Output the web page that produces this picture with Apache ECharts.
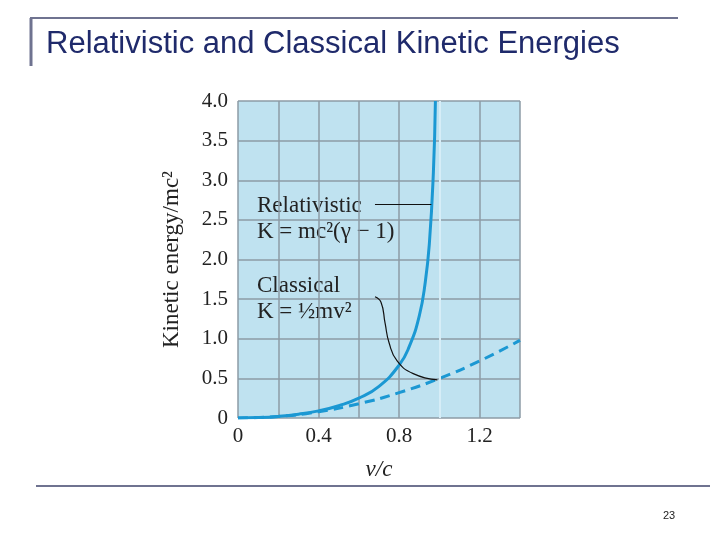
<!DOCTYPE html>
<html>
<head>
<meta charset="utf-8">
<script src="https://cdn.jsdelivr.net/npm/echarts@6/dist/echarts.min.js"></script>
<style>html,body{margin:0;background:#fff}#c{width:720px;height:540px}</style>
</head>
<body>
<div id="c"></div>
<script>
// values
const relV = [0, 0.1, 0.2, 0.3, 0.4, 0.5, 0.6, 0.7, 0.8, 0.85, 0.9, 0.93, 0.95, 0.97, 0.98];
const relK = [0, 0.005, 0.02, 0.048, 0.09, 0.155, 0.25, 0.40, 0.667, 0.9, 1.29, 1.72, 2.2, 3.1, 4.0];
const clsV = [0, 0.2, 0.4, 0.6, 0.8, 1.0, 1.2, 1.4];
const clsK = [0, 0.02, 0.08, 0.18, 0.32, 0.5, 0.72, 0.98];
// curved pointer from "Classical" label to curve
const ptrV = [0.68, 0.71, 0.73, 0.75, 0.79, 0.87, 0.99];
const ptrK = [1.53, 1.46, 1.2, 0.95, 0.72, 0.56, 0.48];

const blue = "#1b98d3";
const serif = "Liberation Serif";
const zip = (a, b) => a.map((x, i) => [x, b[i]]);

const chart = echarts.init(document.getElementById("c"));
chart.setOption({
  animation: false,
  grid: { left: 238, right: 200, top: 101, bottom: 122, backgroundColor: "#bfe2f0", show: true, borderWidth: 0 },
  xAxis: {
    type: "value", min: 0, max: 1.4, interval: 0.2,
    axisLine: { show: false }, axisTick: { show: false },
    splitLine: { lineStyle: { color: "#8c9ba6", width: 1.5 } },
    axisLabel: { fontFamily: serif, fontSize: 21, color: "#222", margin: 8,
      formatter: v => (Math.round(v * 10) % 4 === 0 ? (v === 0 ? "0" : v.toFixed(1)) : "") },
    name: "v/c", nameLocation: "middle", nameGap: 40,
    nameTextStyle: { fontFamily: serif, fontStyle: "italic", fontSize: 23, color: "#222" }
  },
  yAxis: {
    type: "value", min: 0, max: 4, interval: 0.5,
    axisLine: { show: false }, axisTick: { show: false },
    splitLine: { lineStyle: { color: "#8c9ba6", width: 1.5 } },
    axisLabel: { fontFamily: serif, fontSize: 21, color: "#222", margin: 10,
      formatter: v => (v === 0 ? "0" : v.toFixed(1)) },
    name: "Kinetic energy/mc²", nameLocation: "middle", nameGap: 55,
    nameTextStyle: { fontFamily: serif, fontSize: 23, color: "#222" }
  },
  series: [
    { type: "line", data: zip(relV, relK), smooth: true, symbol: "none", z: 3,
      lineStyle: { color: blue, width: 3 },
      markLine: { silent: true, symbol: "none", label: { show: false },
        data: [
          [{ coord: [0.68, 2.7], lineStyle: { color: "#111", width: 1, type: "solid" } }, { coord: [0.96, 2.7] }],
          [{ coord: [1.0, 0], lineStyle: { color: "#d6edf7", width: 2, type: "solid" } }, { coord: [1.0, 4] }]
        ] } },
    { type: "line", data: zip(clsV, clsK), smooth: true, symbol: "none", z: 3,
      lineStyle: { color: blue, width: 3, type: [10, 6] } },
    { type: "line", data: zip(ptrV, ptrK), smooth: true, symbol: "none",
      lineStyle: { color: "#111", width: 1.2 } }
  ],
  graphic: [
    { type: "text", left: 46, top: 29, style: { text: "Relativistic and Classical Kinetic Energies", font: "31px Liberation Sans", fill: "#1f2a6b" } },
    { type: "line", shape: { x1: 30, y1: 18, x2: 678, y2: 18 }, style: { stroke: "#6f7390", lineWidth: 2 } },
    { type: "line", shape: { x1: 31, y1: 18, x2: 31, y2: 66 }, style: { stroke: "#6f7390", lineWidth: 3 } },
    { type: "line", shape: { x1: 36, y1: 486, x2: 710, y2: 486 }, style: { stroke: "#6f7390", lineWidth: 2 } },
    { type: "text", left: 663, top: 510, style: { text: "23", font: "11px Liberation Sans", fill: "#222" } },
    { type: "text", left: 257, top: 194, style: { text: "Relativistic", font: "23px Liberation Serif", fill: "#222" } },
    { type: "text", left: 257, top: 220, style: { text: "K = mc²(γ − 1)", font: "23px Liberation Serif", fill: "#222" } },
    { type: "text", left: 257, top: 274, style: { text: "Classical", font: "23px Liberation Serif", fill: "#222" } },
    { type: "text", left: 257, top: 300, style: { text: "K = ½mv²", font: "23px Liberation Serif", fill: "#222" } }
  ]
});
</script>
</body>
</html>
